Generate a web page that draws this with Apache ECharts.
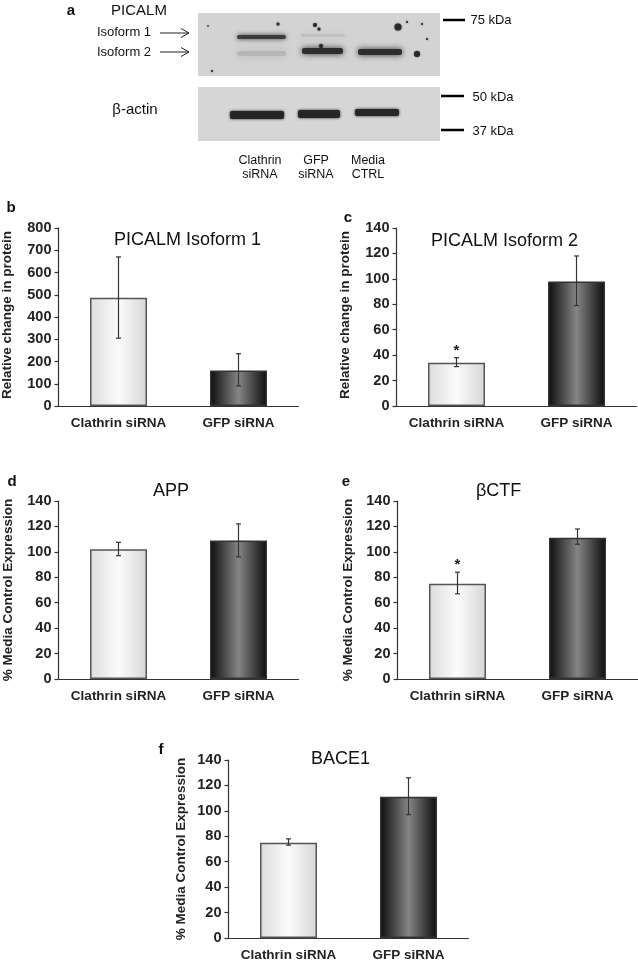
<!DOCTYPE html>
<html><head><meta charset="utf-8">
<style>html,body{margin:0;padding:0;background:#fff}#c{width:638px;height:965px}</style>
<script src="https://cdn.jsdelivr.net/npm/echarts@6/dist/echarts.min.js"></script>
</head><body><div id="c"></div>
<script>
const categories = ['Clathrin siRNA', 'GFP siRNA'];
const isoform1Values = [487, 160];
const isoform1Low = [305, 90];
const isoform1High = [670, 235];
const isoform2Values = [34, 98];
const isoform2Low = [31, 79];
const isoform2High = [38, 118];
const appValues = [102, 109];
const appLow = [97, 96];
const appHigh = [107.5, 122];
const ctfValues = [75, 111];
const ctfLow = [67, 106];
const ctfHigh = [84, 118];
const baceValues = [75, 111];
const baceLow = [73, 97];
const baceHigh = [78, 126];
const isoform1Ticks = [0, 100, 200, 300, 400, 500, 600, 700, 800];
const percentTicks = [0, 20, 40, 60, 80, 100, 120, 140];
const isoform2Sig = [true, false];
const ctfSig = [true, false];
const noSig = [false, false];

const FONT = '"Liberation Sans", Arial, sans-serif';
const INK = '#222';
const panels = [
  {title:'PICALM Isoform 1', tl:114, tt:231, yName:'Relative change in protein', v:isoform1Values, lo:isoform1Low, hi:isoform1High, sig:noSig, ticks:isoform1Ticks, l:58, t:228, gap:44, up:4},
  {title:'PICALM Isoform 2', tl:431, tt:232, yName:'Relative change in protein', v:isoform2Values, lo:isoform2Low, hi:isoform2High, sig:isoform2Sig, ticks:percentTicks, l:396, t:228, gap:44, up:4},
  {title:'APP', tl:153, tt:482, yName:'% Media Control Expression', v:appValues, lo:appLow, hi:appHigh, sig:noSig, ticks:percentTicks, l:58, t:501, gap:43, up:0},
  {title:'βCTF', tl:476, tt:482, yName:'% Media Control Expression', v:ctfValues, lo:ctfLow, hi:ctfHigh, sig:ctfSig, ticks:percentTicks, l:397, t:501, gap:42, up:0},
  {title:'BACE1', tl:311, tt:750, yName:'% Media Control Expression', v:baceValues, lo:baceLow, hi:baceHigh, sig:noSig, ticks:percentTicks, l:228, t:760, gap:40, up:0}
];
const gradLight = new echarts.graphic.LinearGradient(0,0,1,0,[{offset:0,color:'#dcdcdc'},{offset:.5,color:'#fbfbfb'},{offset:1,color:'#d6d6d6'}]);
const gradDark = new echarts.graphic.LinearGradient(0,0,1,0,[{offset:0,color:'#0c0c0c'},{offset:.5,color:'#858585'},{offset:1,color:'#0c0c0c'}]);

const option = {animation:false, backgroundColor:'#fff', title:[], grid:[], xAxis:[], yAxis:[], series:[], graphic:[]};
panels.forEach((p,i)=>{
  option.title.push({text:p.title,left:p.tl,top:p.tt,padding:0,textStyle:{fontFamily:FONT,fontSize:18,fontWeight:'normal',color:'#111'}});
  option.grid.push({left:p.l+0.5,top:p.t,width:240,height:178,containLabel:false,outerBoundsMode:'none'});
  option.xAxis.push({type:'category',gridIndex:i,data:categories,
    axisLine:{lineStyle:{color:'#333',width:1.2}},axisTick:{show:false},
    axisLabel:{fontFamily:FONT,fontSize:13.5,fontWeight:'bold',color:INK,margin:10,interval:0}});
  option.yAxis.push({type:'value',gridIndex:i,min:p.ticks[0],max:p.ticks[p.ticks.length-1],interval:p.ticks[1]-p.ticks[0],
    name:p.yName,nameLocation:'middle',nameGap:p.gap,nameRotate:90,
    nameTextStyle:{fontFamily:FONT,fontSize:13.5,fontWeight:'bold',color:INK,padding:[0,0,0,p.up]},
    splitLine:{show:false},axisLine:{show:true,lineStyle:{color:'#333',width:1.2}},
    axisTick:{show:true,length:4,lineStyle:{color:'#333',width:1.2}},
    axisLabel:{fontFamily:FONT,fontSize:14.5,fontWeight:'bold',color:INK,margin:7}});
  option.series.push({type:'bar',xAxisIndex:i,yAxisIndex:i,barWidth:57,
    data:p.v.map((val,k)=>({value:val,itemStyle:{color:k===0?gradLight:gradDark,borderColor:k===0?'#555':'#333',borderWidth:1.5}}))});
  option.series.push({type:'custom',xAxisIndex:i,yAxisIndex:i,z:5,
    data:p.v.map((val,k)=>[k,p.lo[k],p.hi[k],p.sig[k]?1:0]),
    encode:{x:0,y:[1,2]},
    renderItem:(params,api)=>{
      const a=api.coord([api.value(0),api.value(1)]), b=api.coord([api.value(0),api.value(2)]);
      const s={stroke:'#333',lineWidth:1.2,fill:null};
      const kids=[
        {type:'line',shape:{x1:a[0],y1:a[1],x2:b[0],y2:b[1]},style:s},
        {type:'line',shape:{x1:a[0]-2.5,y1:a[1],x2:a[0]+2.5,y2:a[1]},style:s},
        {type:'line',shape:{x1:b[0]-2.5,y1:b[1],x2:b[0]+2.5,y2:b[1]},style:s}];
      if(api.value(3)) kids.push({type:'text',style:{text:'*',x:b[0],y:b[1]-7,textAlign:'center',textVerticalAlign:'middle',fontFamily:FONT,fontSize:15,fontWeight:'bold',fill:INK}});
      return {type:'group',children:kids};
    }});
});

// Western-blot panel (a) and panel letters: decorative picture content
const g=[];
const txt=(t,x,y,size,align,bold)=>g.push({type:'text',z:10,style:{text:t,x,y,fontFamily:FONT,fontSize:size,fontWeight:bold?'bold':'normal',fill:'#111',textAlign:align||'center',textVerticalAlign:'middle'}});
const rect=(x,y,w,h,fill,blur,r)=>g.push({type:'rect',z:3,shape:{x,y,width:w,height:h,r:r||0},style:{fill,shadowBlur:blur||0,shadowColor:fill}});
const dot=(x,y,r,fill)=>g.push({type:'circle',z:4,shape:{cx:x,cy:y,r},style:{fill:fill||'#2a2a2a',shadowBlur:1.5,shadowColor:fill||'#2a2a2a'}});
rect(198,13,242,63,'#d3d3d3');
rect(198,87,242,54,'#d6d6d6');
[[301,34,44,3,'#c0c0c0',6],[237,51,49,5,'#b6b6b6',9],[237,35,49,4,'#3c3c3c',5],[302,48,41,6,'#2e2e2e',6],[358,49,44,6,'#2e2e2e',6],
 [230,111,54,8,'#262626',3],[298,110,42,8,'#262626',3],[355,109,44,7,'#262626',3]].forEach(b=>rect(b[0],b[1],b[2],b[3],b[4],b[5],2));
[[278,24,1.5],[315,25,2],[319,29,1.5],[398,27,3.5],[417,54,3],[321,46,2],[407,22,1],[422,24,1],[427,39,1],[208,26,.8],[212,71,1]].forEach(d=>dot(d[0],d[1],d[2]));
const bar=(x1,y,x2)=>g.push({type:'line',z:4,shape:{x1,y1:y,x2,y2:y},style:{stroke:'#000',lineWidth:2.5}});
bar(443,20,465);bar(441,96,464);bar(441,130,464);
const arrow=(y)=>g.push({type:'polyline',z:4,shape:{points:[[160,y],[189,y]]},style:{stroke:'#222',lineWidth:1,fill:null}},
  {type:'polyline',z:4,shape:{points:[[181,y-4.5],[189,y],[181,y+4.5]]},style:{stroke:'#222',lineWidth:1,fill:null}});
arrow(33);arrow(52);
txt('PICALM',139,11,15);txt('Isoform 1',124,32,13);txt('Isoform 2',124,52,13);txt('β-actin',135,110,15);
txt('75 kDa',491,20,13);txt('50 kDa',493,97,13);txt('37 kDa',493,131,13);
txt('Clathrin',260,161,12.5);txt('siRNA',260,175,12.5);txt('GFP',316,161,12.5);txt('siRNA',316,175,12.5);txt('Media',368,161,12.5);txt('CTRL',368,175,12.5);
txt('a',71,11,15,'center',true);txt('b',11,208,15,'center',true);txt('c',348,218,15,'center',true);
txt('d',12,482,15,'center',true);txt('e',346,482,15,'center',true);txt('f',161,750,15,'center',true);
option.graphic=g;
echarts.init(document.getElementById('c')).setOption(option);
</script></body></html>
